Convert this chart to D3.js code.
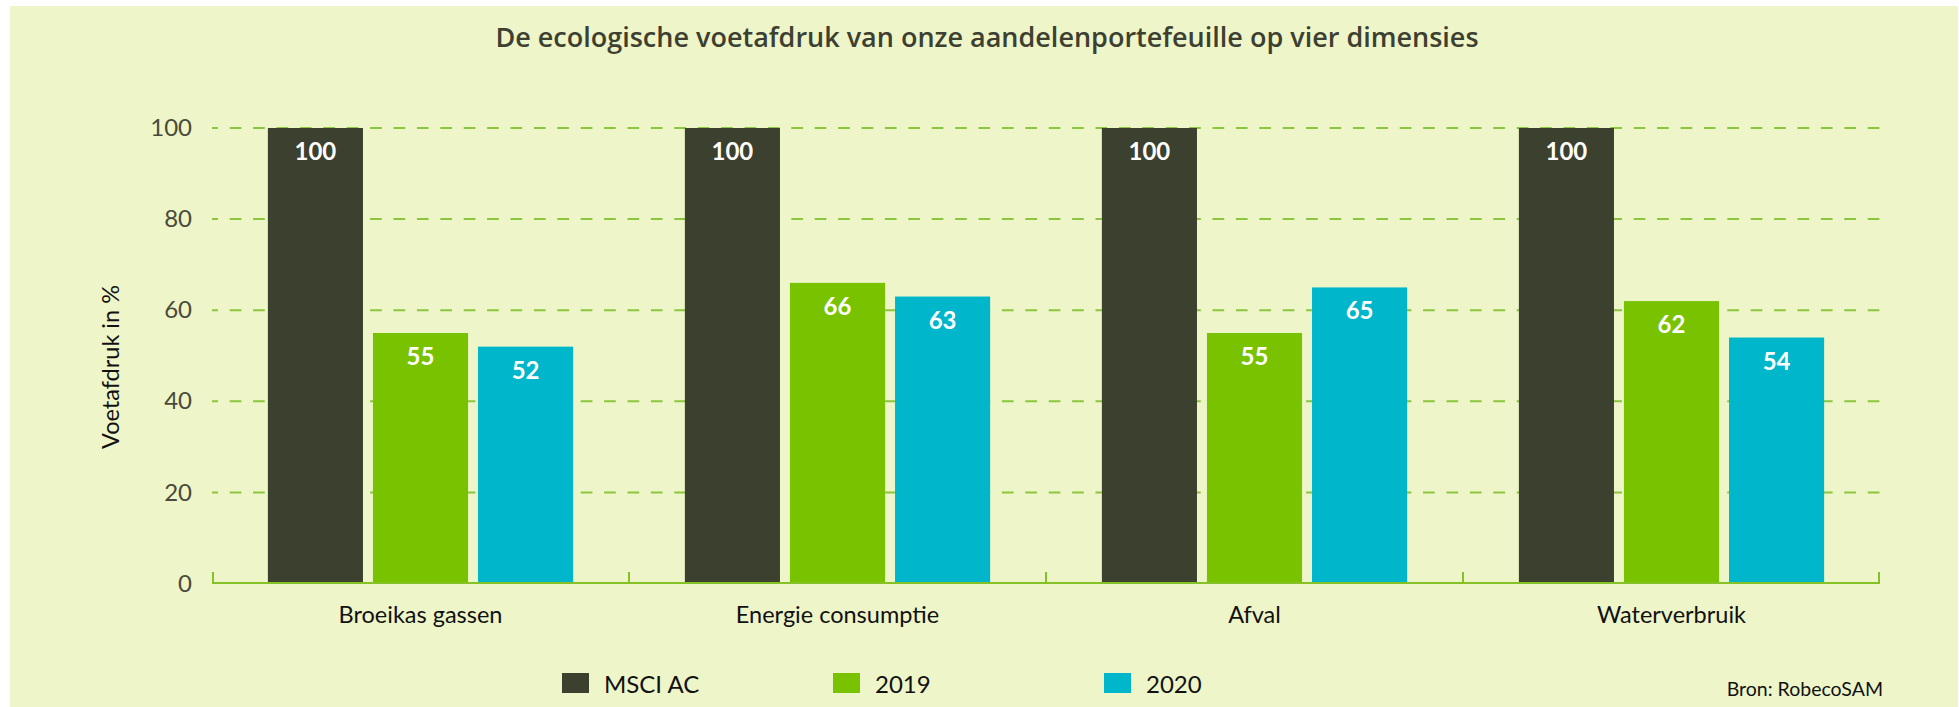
<!DOCTYPE html>
<html lang="nl">
<head>
	<meta charset="UTF-8">
	<title>Ecologische voetafdruk</title>
	<script src="https://cdn.jsdelivr.net/npm/d3@7"></script>
	<style>
		body { margin: 0; background: #ffffff; }
		text { font-family: Lato, "Open Sans", sans-serif; }
	</style>
</head>
<body>
<svg></svg>
<script>
	// data
	var categories = ['Broeikas gassen', 'Energie consumptie', 'Afval', 'Waterverbruik'];
	var seriesNames = ['MSCI AC', '2019', '2020'];
	var msci = [100, 100, 100, 100];
	var y2019 = [55, 66, 55, 62];
	var y2020 = [52, 63, 65, 54];
	var yTicks = [0, 20, 40, 60, 80, 100];
	var colors = ['#3c402f', '#78c200', '#00b6cb'];

	var W = 1959, H = 707;
	var margin = {top: 128, left: 212, bottom: 124, right: 79};
	var width = W - margin.left - margin.right;
	var height = H - margin.top - margin.bottom;

	var rows = categories.map(function (c, i) {
		return {cat: c, values: [msci[i], y2019[i], y2020[i]]};
	});

	var svg = d3.select('svg')
		.attr('width', W)
		.attr('height', H);

	svg.append('rect')
		.attr('x', 10).attr('y', 6)
		.attr('width', W - 11).attr('height', H - 6)
		.attr('fill', '#eef5c8');

	svg.append('text')
		.attr('x', 987)
		.attr('y', 47)
		.attr('text-anchor', 'middle')
		.attr('fill', '#3d4030')
		.style('font-family', '"Open Sans", sans-serif')
		.style('font-size', '27px')
		.style('font-weight', 600)
		.text('De ecologische voetafdruk van onze aandelenportefeuille op vier dimensies');

	var g = svg.append('g')
		.attr('transform', 'translate(' + margin.left + ',' + margin.top + ')');

	var x0 = d3.scaleBand()
		.domain(categories)
		.range([0, width])
		.paddingInner(0.268)
		.paddingOuter(0.134);

	var x1 = d3.scaleBand()
		.domain(seriesNames)
		.range([0, x0.bandwidth()])
		.paddingInner(0.095);

	var y = d3.scaleLinear()
		.domain([0, 100])
		.range([height + 0.5, 0]);

	// gridlines
	g.selectAll('.grid')
		.data(yTicks.filter(function (d) { return d > 0; }))
		.enter()
		.append('line')
		.attr('class', 'grid')
		.attr('x1', 0).attr('x2', width)
		.attr('y1', function (d) { return y(d); })
		.attr('y2', function (d) { return y(d); })
		.attr('stroke', '#8cc63f')
		.attr('stroke-width', 2)
		.attr('stroke-dasharray', '11.7,11.7')
		.attr('stroke-dashoffset', 5.7);

	// y axis
	var yAxis = g.append('g')
		.call(d3.axisLeft(y).tickValues(yTicks).tickSize(0).tickPadding(20));
	yAxis.select('.domain').remove();
	yAxis.selectAll('text')
		.attr('fill', '#4a4a3a')
		.style('font-size', '24px')
		.style('font-family', 'Lato, sans-serif');

	svg.append('text')
		.attr('transform', 'translate(119,367) rotate(-90)')
		.attr('text-anchor', 'middle')
		.attr('fill', '#111111')
		.style('font-size', '23.5px')
		.text('Voetafdruk in %');

	// bars
	var groups = g.selectAll('.group')
		.data(rows)
		.enter()
		.append('g')
		.attr('class', 'group')
		.attr('transform', function (d) { return 'translate(' + x0(d.cat) + ',0)'; });

	var cells = groups.selectAll('.cell')
		.data(function (d) {
			return d.values.map(function (v, i) { return {name: seriesNames[i], value: v, i: i}; });
		})
		.enter()
		.append('g')
		.attr('class', 'cell');

	cells.append('rect')
		.attr('x', function (d) { return x1(d.name); })
		.attr('y', function (d) { return y(d.value); })
		.attr('width', x1.bandwidth())
		.attr('height', function (d) { return y(0) - y(d.value); })
		.attr('fill', function (d) { return colors[d.i]; });

	cells.append('text')
		.attr('x', function (d) { return x1(d.name) + x1.bandwidth() / 2; })
		.attr('y', function (d) { return y(d.value) + 32; })
		.attr('text-anchor', 'middle')
		.attr('fill', '#ffffff')
		.style('font-size', '24px')
		.style('font-weight', 'bold')
		.text(function (d) { return d.value; });

	// x axis
	var xAxis = g.append('g')
		.attr('transform', 'translate(0,' + height + ')');
	xAxis.append('line')
		.attr('x1', 0).attr('x2', width)
		.attr('stroke', '#84c225')
		.attr('stroke-width', 2);
	var step = x0.step();
	var bounds = d3.range(categories.length + 1).map(function (i) { return i * step; });
	xAxis.selectAll('.tick-b')
		.data(bounds)
		.enter()
		.append('line')
		.attr('class', 'tick-b')
		.attr('x1', function (d) { return Math.min(Math.max(d, 1), width - 1); })
		.attr('x2', function (d) { return Math.min(Math.max(d, 1), width - 1); })
		.attr('y1', 0).attr('y2', -11)
		.attr('stroke', '#84c225')
		.attr('stroke-width', 2);
	xAxis.selectAll('.cat')
		.data(categories)
		.enter()
		.append('text')
		.attr('class', 'cat')
		.attr('x', function (d) { return x0(d) + x0.bandwidth() / 2; })
		.attr('y', 40)
		.attr('text-anchor', 'middle')
		.attr('fill', '#111111')
		.style('font-size', '23.5px')
		.text(function (d) { return d; });

	// legend
	var legend = svg.selectAll('.legend')
		.data(seriesNames)
		.enter()
		.append('g')
		.attr('class', 'legend')
		.attr('transform', function (d, i) { return 'translate(' + (562 + i * 271) + ',673)'; });
	legend.append('rect')
		.attr('width', 27).attr('height', 20)
		.attr('fill', function (d, i) { return colors[i]; });
	legend.append('text')
		.attr('x', 42).attr('y', 20)
		.attr('fill', '#111111')
		.style('font-size', '24px')
		.text(function (d) { return d; });

	svg.append('text')
		.attr('x', 1883).attr('y', 696)
		.attr('text-anchor', 'end')
		.attr('fill', '#111111')
		.style('font-size', '19.5px')
		.text('Bron: RobecoSAM');
</script>
</body>
</html>
